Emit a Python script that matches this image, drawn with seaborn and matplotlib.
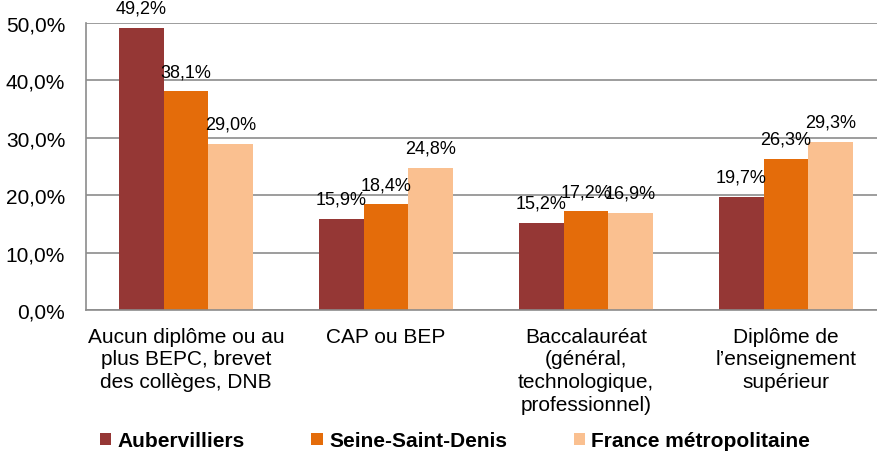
import matplotlib
matplotlib.use("Agg")
import matplotlib.pyplot as plt
import seaborn as sns
import pandas as pd

categories = ["Aucun diplôme ou au\nplus BEPC, brevet\ndes collèges, DNB",
              "CAP ou BEP",
              "Baccalauréat\n(général,\ntechnologique,\nprofessionnel)",
              "Diplôme de\nl’enseignement\nsupérieur"]
series = ["Aubervilliers", "Seine-Saint-Denis", "France métropolitaine"]
aubervilliers = [49.2, 15.9, 15.2, 19.7]
seine_saint_denis = [38.1, 18.4, 17.2, 26.3]
france = [29.0, 24.8, 16.9, 29.3]
yticks = [0, 10, 20, 30, 40, 50]
colors = ["#953735", "#E46C0A", "#FAC090"]

rows = []
for name, vals in zip(series, [aubervilliers, seine_saint_denis, france]):
    for c, v in zip(categories, vals):
        rows.append({"cat": c, "serie": name, "val": v})
df = pd.DataFrame(rows)

sns.set_theme(style="white")
plt.rcParams["font.family"] = ["Liberation Sans", "DejaVu Sans"]

fig = plt.figure(figsize=(8.78, 4.52), dpi=100)
ax = fig.add_axes([86/878, 1-311/452, 800/878, 287/452])
sns.barplot(data=df, x="cat", y="val", hue="serie", palette=colors,
            width=0.67, gap=0, saturation=1, linewidth=0, ax=ax, legend=True)

for cont in ax.containers:
    labels = [f"{b.get_height():.1f}".replace(".", ",") + "%" for b in cont]
    ax.bar_label(cont, labels=labels, padding=8, fontsize=13, color="#000000")

ax.set_ylim(0, 50)
ax.set_yticks(yticks)
ax.set_yticklabels([f"{t:.1f}".replace(".", ",") + "%" for t in yticks])
ax.set_xlim(-0.5, 3.5)
ax.yaxis.grid(True, color="#8c8c8c", linewidth=1.2)
ax.set_axisbelow(True)
ax.tick_params(axis="y", length=0, pad=15, labelsize=15, labelcolor="#000000")
ax.tick_params(axis="x", length=0, pad=12, labelsize=15, labelcolor="#000000")
for lab in ax.get_xticklabels():
    lab.set_linespacing(1.25)
ax.set_xlabel("")
ax.set_ylabel("")
for s in ["top", "right"]:
    ax.spines[s].set_visible(False)
ax.spines["left"].set_color("#8c8c8c")
ax.spines["bottom"].set_color("#8c8c8c")
ax.spines["left"].set_linewidth(1.2)
ax.spines["bottom"].set_linewidth(1.2)

handles, labs = ax.get_legend_handles_labels()
ax.legend_.remove()
leg = fig.legend(handles, labs, loc="center", bbox_to_anchor=(455/878, 1-442/452),
                 ncol=3, frameon=False, fontsize=15, handlelength=0.55, handleheight=0.55,
                 handletextpad=0.3, columnspacing=3.2, borderaxespad=0)
for t in leg.get_texts():
    t.set_fontweight("bold")
    t.set_color("#000000")

fig.savefig("out.png", dpi=100)
